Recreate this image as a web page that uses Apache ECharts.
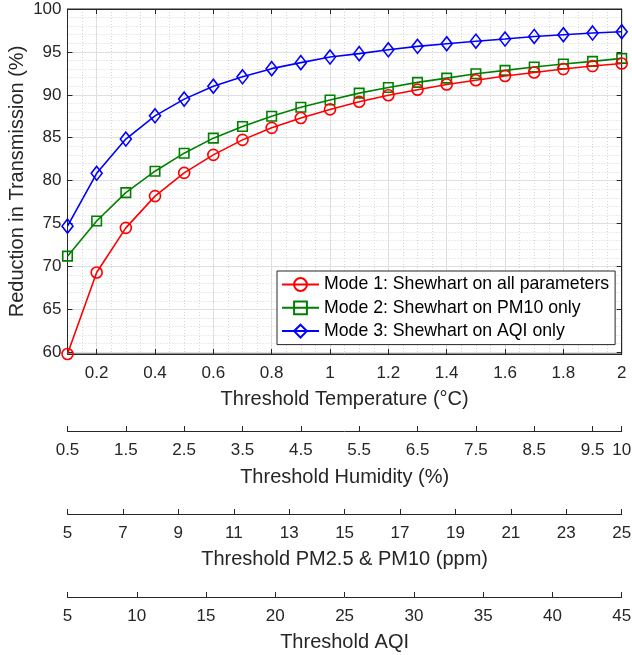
<!DOCTYPE html>
<html>
<head>
<meta charset="utf-8">
<script src="https://cdn.jsdelivr.net/npm/echarts@6/dist/echarts.min.js"></script>
<style>
html,body{margin:0;padding:0;background:#fff;}
#c{width:632px;height:655px;}
</style>
</head>
<body>
<div id="c"></div>
<script>
// ---- data ----
const temps = [0.1,0.2,0.3,0.4,0.5,0.6,0.7,0.8,0.9,1.0,1.1,1.2,1.3,1.4,1.5,1.6,1.7,1.8,1.9,2.0];
const mode1 = [59.8,69.3,74.5,78.2,80.9,83.0,84.75,86.15,87.3,88.3,89.2,89.95,90.6,91.2,91.7,92.2,92.6,93.0,93.35,93.65];
const mode2 = [71.2,75.3,78.6,81.1,83.2,84.95,86.3,87.5,88.55,89.4,90.2,90.85,91.45,91.95,92.45,92.85,93.25,93.6,93.9,94.25];
const mode3 = [74.7,80.85,84.85,87.55,89.5,91.0,92.1,93.05,93.75,94.4,94.8,95.25,95.65,95.95,96.25,96.5,96.8,97.0,97.2,97.35];
const seriesNames = ['Mode 1: Shewhart on all parameters','Mode 2: Shewhart on PM10 only','Mode 3: Shewhart on AQI only'];

// ---- tick labels ----
const tempTicks = [0.2,0.4,0.6,0.8,1,1.2,1.4,1.6,1.8,2];
const yTicks = [60,65,70,75,80,85,90,95,100];
const humTicks = [0.5,1.5,2.5,3.5,4.5,5.5,6.5,7.5,8.5,9.5,10];
const pmTicks = [5,7,9,11,13,15,17,19,21,23,25];
const aqiTicks = [5,10,15,20,25,30,35,40,45];

const xMinorTicks = []; for (let i = 2; i <= 40; i++) xMinorTicks.push(+(i*0.05).toFixed(2));
const yMinorTicks = []; for (let v = 60; v <= 100; v++) yMinorTicks.push(v);

const FONT = 'Liberation Sans, Arial, Helvetica, sans-serif';
const TXT = '#262626';
const AX = '#262626';
const TICKFS = 17, TITLEFS = 20;

const L = 67.5, R = 10.3;

function pairs(ys){ return temps.map((t,i)=>[t, ys[i]]); }

function extraX(gridIndex, min, max, ticks, name, gap){
  return {
    type:'value', gridIndex, min, max, position:'bottom',
    axisLine:{show:true, onZero:false, lineStyle:{color:AX, width:1}},
    axisTick:{show:true, inside:true, length:5, customValues:ticks, lineStyle:{color:AX}},
    axisLabel:{show:true, customValues:ticks, margin:10.5, color:TXT, fontSize:TICKFS, fontFamily:FONT},
    splitLine:{show:false},
    name, nameLocation:'middle', nameGap:gap,
    nameTextStyle:{color:TXT, fontSize:TITLEFS, fontFamily:FONT}
  };
}
function dummyY(gridIndex){
  return {type:'value', gridIndex, show:false, min:0, max:1, splitLine:{show:false}};
}

const option = {
  animation:false,
  backgroundColor:'#fff',
  grid:[
    {left:L, right:R, top:9, height:345, show:true, borderColor:AX, borderWidth:1, backgroundColor:'#fff', containLabel:false, outerBoundsMode:'none'},
    {left:L, right:R, top:430, height:1, containLabel:false, outerBoundsMode:'none'},
    {left:L, right:R, top:513, height:1, containLabel:false, outerBoundsMode:'none'},
    {left:L, right:R, top:596, height:1, containLabel:false, outerBoundsMode:'none'}
  ],
  xAxis:[
    { // main bottom
      type:'value', gridIndex:0, min:0.1, max:2, position:'bottom',
      axisLine:{show:true, onZero:false, lineStyle:{color:AX}},
      axisTick:{show:true, inside:true, length:5, customValues:tempTicks, lineStyle:{color:AX}},
      axisLabel:{customValues:tempTicks, margin:10.5, color:TXT, fontSize:TICKFS, fontFamily:FONT},
      splitLine:{show:true, lineStyle:{color:'#e3e3e3', width:1}},
      name:'Threshold Temperature (°C)', nameLocation:'middle', nameGap:35,
      nameTextStyle:{color:TXT, fontSize:TITLEFS, fontFamily:FONT}
    },
    { // minor grid
      type:'value', gridIndex:0, min:0.1, max:2, position:'bottom',
      axisLine:{show:false}, axisLabel:{show:false},
      axisTick:{show:false, customValues:xMinorTicks},
      splitLine:{show:true, lineStyle:{color:'#d6d6d6', width:1, type:[1,2]}}
    },
    { // top box ticks
      type:'value', gridIndex:0, min:0.1, max:2, position:'top',
      axisLine:{show:true, onZero:false, lineStyle:{color:AX}},
      axisTick:{show:true, inside:true, length:5, customValues:tempTicks, lineStyle:{color:AX}},
      axisLabel:{show:false}, splitLine:{show:false}
    },
    extraX(1, 0.5, 10, humTicks, 'Threshold Humidity (%)', 36),
    extraX(2, 5, 25, pmTicks, 'Threshold PM2.5 & PM10 (ppm)', 35),
    extraX(3, 5, 45, aqiTicks, 'Threshold AQI', 35)
  ],
  yAxis:[
    {
      type:'value', gridIndex:0, min:59.8, max:100, position:'left',
      axisLine:{show:true, onZero:false, lineStyle:{color:AX}},
      axisTick:{show:true, inside:true, length:5, customValues:yTicks, lineStyle:{color:AX}},
      axisLabel:{customValues:yTicks, margin:6, color:TXT, fontSize:TICKFS, fontFamily:FONT},
      splitLine:{show:true, lineStyle:{color:'#e3e3e3', width:1}},
      name:'Reduction in Transmission (%)', nameLocation:'middle', nameGap:40, nameMoveOverlap:false,
      nameTextStyle:{color:TXT, fontSize:TITLEFS, fontFamily:FONT}
    },
    {
      type:'value', gridIndex:0, min:59.8, max:100, position:'left',
      axisLine:{show:false}, axisLabel:{show:false},
      axisTick:{show:false, customValues:yMinorTicks},
      splitLine:{show:true, lineStyle:{color:'#d6d6d6', width:1, type:[1,2]}}
    },
    {
      type:'value', gridIndex:0, min:59.8, max:100, position:'right',
      axisLine:{show:true, onZero:false, lineStyle:{color:AX}},
      axisTick:{show:true, inside:true, length:5, customValues:yTicks, lineStyle:{color:AX}},
      axisLabel:{show:false}, splitLine:{show:false}
    },
    dummyY(1), dummyY(2), dummyY(3)
  ],
  legend:{
    orient:'vertical', left:277, top:271,
    itemWidth:37, itemHeight:16, itemGap:5.3,
    padding:[4.5,6,4.5,4],
    backgroundColor:'#fff', borderColor:AX, borderWidth:1,
    textStyle:{color:'#000', fontSize:17.7, fontFamily:FONT, lineHeight:17.7},
    data:seriesNames
  },
  series:[
    {name:seriesNames[0], type:'line', xAxisIndex:0, yAxisIndex:0, data:pairs(mode1),
     symbol:'circle', symbolSize:11, showAllSymbol:true,
     lineStyle:{color:'#ff0000', width:1.6},
     itemStyle:{color:'rgba(255,255,255,0)', borderColor:'#ff0000', borderWidth:1.6}, z:5},
    {name:seriesNames[1], type:'line', xAxisIndex:0, yAxisIndex:0, data:pairs(mode2),
     symbol:'rect', symbolSize:9.5, showAllSymbol:true,
     lineStyle:{color:'#008000', width:1.6},
     itemStyle:{color:'rgba(255,255,255,0)', borderColor:'#008000', borderWidth:1.6}, z:4},
    {name:seriesNames[2], type:'line', xAxisIndex:0, yAxisIndex:0, data:pairs(mode3),
     symbol:'diamond', symbolSize:[11,14], showAllSymbol:true,
     lineStyle:{color:'#0000ff', width:1.6},
     itemStyle:{color:'rgba(255,255,255,0)', borderColor:'#0000ff', borderWidth:1.6}, z:3}
  ]
};
const chart = echarts.init(document.getElementById('c'), null, {renderer:'canvas'});
chart.setOption(option);
</script>
</body>
</html>
